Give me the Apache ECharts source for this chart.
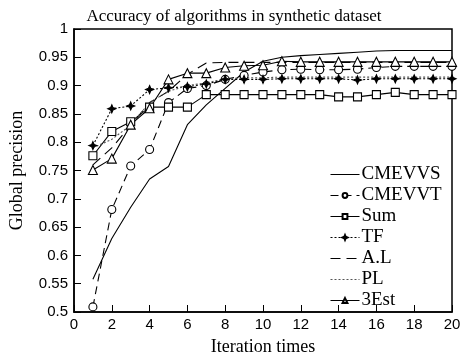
<!DOCTYPE html>
<html>
<head>
<meta charset="utf-8">
<script src="https://cdn.jsdelivr.net/npm/echarts@6/dist/echarts.min.js"></script>
<style>
  html, body { margin: 0; padding: 0; background: #fff; }
  #chart { width: 467px; height: 361px; }
</style>
</head>
<body>
<div id="chart"></div>
<script>
const iterations = [1, 2, 3, 4, 5, 6, 7, 8, 9, 10, 11, 12, 13, 14, 15, 16, 17, 18, 19, 20];
const cmevvs = [0.558, 0.63, 0.685, 0.735, 0.757, 0.831, 0.866, 0.895, 0.924, 0.943, 0.95, 0.953, 0.955, 0.957, 0.959, 0.961, 0.962, 0.962, 0.962, 0.962];
const cmevvt = [0.509, 0.681, 0.758, 0.787, 0.87, 0.895, 0.9, 0.911, 0.918, 0.924, 0.928, 0.929, 0.928, 0.928, 0.929, 0.932, 0.934, 0.934, 0.934, 0.934];
const sum = [0.776, 0.819, 0.836, 0.862, 0.862, 0.862, 0.884, 0.884, 0.884, 0.884, 0.884, 0.884, 0.884, 0.88, 0.88, 0.884, 0.888, 0.884, 0.884, 0.884];
const tf = [0.794, 0.859, 0.864, 0.893, 0.896, 0.898, 0.903, 0.911, 0.911, 0.911, 0.912, 0.912, 0.912, 0.912, 0.91, 0.912, 0.912, 0.912, 0.912, 0.912];
const al = [0.76, 0.79, 0.83, 0.87, 0.89, 0.92, 0.94, 0.941, 0.941, 0.941, 0.941, 0.941, 0.941, 0.941, 0.941, 0.941, 0.941, 0.941, 0.941, 0.941];
const pl = [0.79, 0.805, 0.83, 0.87, 0.89, 0.9, 0.905, 0.912, 0.914, 0.914, 0.915, 0.915, 0.915, 0.915, 0.915, 0.915, 0.915, 0.915, 0.915, 0.915];
const est3 = [0.751, 0.771, 0.831, 0.86, 0.911, 0.922, 0.922, 0.932, 0.935, 0.936, 0.943, 0.942, 0.942, 0.942, 0.942, 0.942, 0.942, 0.942, 0.942, 0.942];
const legendNames = ['CMEVVS', 'CMEVVT', 'Sum', 'TF', 'A.L', 'PL', '3Est'];
const noMarker = ['CMEVVS', 'A.L', 'PL'];

const pairs = vals => vals.map((v, i) => [iterations[i], v]);
const starPath = 'path://M0,-10 L3,-3 10,0 3,3 0,10 -3,3 -10,0 -3,-3Z';

const chart = echarts.init(document.getElementById('chart'));

const mk = (name, vals, lineType, color, symbol, size) => ({
    name: name,
    type: 'line',
    data: pairs(vals),
    symbol: symbol || 'none',
    symbolSize: size || 8,
    showSymbol: !!symbol,
    lineStyle: { color: color, width: 1.1, type: lineType },
    itemStyle: {
        color: symbol === starPath ? '#000' : '#fff',
        borderColor: '#000',
        borderWidth: 1.1
    },
    animation: false
});

const option = {
    backgroundColor: '#fff',
    title: {
        text: 'Accuracy of algorithms in synthetic dataset',
        left: 229,
        textAlign: 'center',
        top: 3,
        textStyle: { fontFamily: 'Liberation Serif', fontSize: 17, fontWeight: 'normal', color: '#000' }
    },
    grid: {
        left: 74, right: 15, top: 29, bottom: 42,
        show: true, borderColor: '#000', borderWidth: 1.5
    },
    legend: {
        orient: 'vertical',
        left: 325,
        top: 160,
        itemWidth: 29,
        itemHeight: 6,
        itemGap: 2,
        lineStyle: { width: 1 },
        textStyle: { fontFamily: 'Liberation Serif', fontSize: 19, color: '#000', padding: [0, 0, 0, -3] },
        data: legendNames.map(n => noMarker.includes(n)
            ? { name: n, itemStyle: { opacity: 0 } }
            : { name: n })
    },
    xAxis: {
        type: 'value',
        min: 0, max: 20, interval: 2,
        name: 'Iteration times',
        nameLocation: 'middle',
        nameGap: 26,
        nameTextStyle: { fontFamily: 'Liberation Serif', fontSize: 18, color: '#000' },
        axisLine: { lineStyle: { color: '#000', width: 1.5 } },
        axisTick: { inside: true, length: 7, lineStyle: { color: '#000' } },
        axisLabel: { fontFamily: 'Liberation Sans', fontSize: 15, color: '#000', margin: 5 },
        splitLine: { show: false }
    },
    yAxis: {
        type: 'value',
        min: 0.5, max: 1, interval: 0.05,
        name: 'Global precision',
        nameLocation: 'middle',
        nameGap: 48,
        nameTextStyle: { fontFamily: 'Liberation Serif', fontSize: 18, color: '#000' },
        axisLine: { show: true, lineStyle: { color: '#000', width: 1.5 } },
        axisTick: { show: true, inside: true, length: 7, lineStyle: { color: '#000' } },
        axisLabel: { fontFamily: 'Liberation Sans', fontSize: 15, color: '#000', margin: 6 },
        splitLine: { show: false }
    },
    series: [
        mk('CMEVVS', cmevvs, 'solid', '#000'),
        mk('CMEVVT', cmevvt, [8, 5], '#000', 'circle', 8),
        mk('Sum', sum, 'solid', '#000', 'rect', 8),
        mk('TF', tf, [2, 2], '#000', starPath, 8),
        mk('A.L', al, [10, 6], '#000'),
        mk('PL', pl, [2, 2], '#555'),
        mk('3Est', est3, 'solid', '#000', 'triangle', 9)
    ]
};

chart.setOption(option);
</script>
</body>
</html>
